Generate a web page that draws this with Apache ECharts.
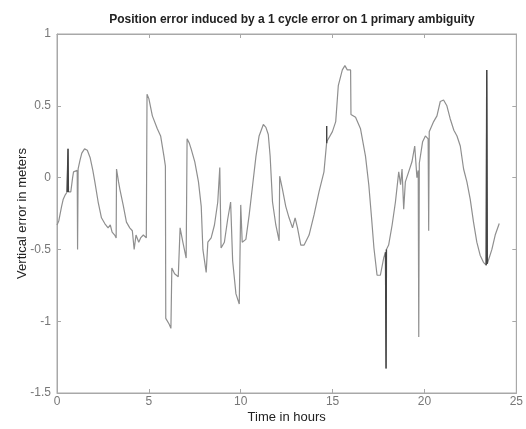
<!DOCTYPE html>
<html>
<head>
<meta charset="utf-8">
<script src="https://cdn.jsdelivr.net/npm/echarts@6/dist/echarts.min.js"></script>
<style>
  html, body { margin: 0; padding: 0; background: #fff; }
  #chart { width: 526px; height: 429px; }
</style>
</head>
<body>
<div id="chart"></div>
<script>
  // time in hours / vertical error in metres
  const times = [
    0.0, 0.1, 0.25, 0.34, 0.45, 0.55, 0.6, 0.62, 0.75, 0.85, 0.9, 1.0, 1.1, 1.12, 1.15,
    1.25, 1.35, 1.5, 1.65, 1.8, 1.95, 2.06, 2.24, 2.42, 2.6, 2.78, 2.9, 3.0, 3.14, 3.22,
    3.24, 3.35, 3.42, 3.6, 3.78, 3.96, 4.1, 4.2, 4.3, 4.45, 4.55, 4.7, 4.86, 4.9, 5.0,
    5.19, 5.46, 5.64, 5.82, 5.9, 5.92, 6.1, 6.2, 6.25, 6.4, 6.6, 6.7, 6.85, 7.03, 7.08,
    7.2, 7.3, 7.5, 7.7, 7.85, 7.94, 8.12, 8.21, 8.39, 8.57, 8.75, 8.86, 8.93, 9.11, 9.29,
    9.45, 9.56, 9.74, 9.92, 10.0, 10.08, 10.28, 10.46, 10.65, 10.83, 11.0, 11.23, 11.37, 11.5, 11.6,
    11.73, 11.91, 12.09, 12.12, 12.27, 12.45, 12.63, 12.82, 12.96, 13.09, 13.27, 13.45, 13.72, 13.99, 14.26,
    14.53, 14.68, 14.99, 15.17, 15.31, 15.53, 15.67, 15.8, 15.98, 16.0, 16.25, 16.52, 16.79, 16.97, 17.12,
    17.25, 17.42, 17.6, 17.78, 17.88, 17.91, 17.93, 18.05, 18.24, 18.42, 18.6, 18.7, 18.78, 18.87, 18.96,
    19.14, 19.32, 19.47, 19.59, 19.66, 19.69, 19.72, 19.9, 20.05, 20.2, 20.23, 20.26, 20.5, 20.68, 20.86,
    21.04, 21.22, 21.4, 21.6, 21.77, 21.95, 22.13, 22.31, 22.49, 22.67, 22.85, 23.03, 23.21, 23.36, 23.39,
    23.42, 23.67, 23.85, 24.07
  ]
  const errors = [
    -0.33, -0.3, -0.2, -0.15, -0.12, -0.1, 0.2, -0.1, -0.1, 0.0, 0.04, 0.05, 0.05, -0.5, 0.06,
    0.12, 0.17, 0.2, 0.19, 0.14, 0.05, -0.03, -0.17, -0.28, -0.32, -0.35, -0.33, -0.38, -0.4, -0.42,
    0.06, -0.03, -0.08, -0.19, -0.31, -0.35, -0.37, -0.5, -0.4, -0.45, -0.42, -0.4, -0.42, 0.58, 0.55,
    0.43, 0.34, 0.29, 0.15, 0.08, -0.98, -1.02, -1.05, -0.63, -0.67, -0.69, -0.35, -0.45, -0.56, 0.27,
    0.24, 0.2, 0.11, -0.03, -0.2, -0.5, -0.66, -0.45, -0.42, -0.33, -0.17, 0.07, -0.49, -0.45, -0.29,
    -0.17, -0.58, -0.81, -0.88, -0.19, -0.45, -0.43, -0.26, -0.05, 0.15, 0.29, 0.37, 0.35, 0.3, 0.15,
    -0.17, -0.33, -0.44, 0.01, -0.08, -0.2, -0.28, -0.35, -0.28, -0.35, -0.47, -0.47, -0.4, -0.26, -0.1,
    0.04, 0.25, 0.32, 0.39, 0.64, 0.75, 0.78, 0.75, 0.75, 0.44, 0.42, 0.34, 0.15, -0.05, -0.28,
    -0.49, -0.68, -0.68, -0.56, -0.52, -1.33, -0.5, -0.47, -0.33, -0.17, 0.04, -0.05, 0.06, -0.22, -0.03,
    0.04, 0.11, 0.22, 0.0, 0.05, -1.11, 0.1, 0.25, 0.29, 0.27, -0.37, 0.32, 0.39, 0.43, 0.53,
    0.54, 0.5, 0.41, 0.33, 0.29, 0.22, 0.06, -0.03, -0.15, -0.31, -0.45, -0.54, -0.59, -0.61, 0.75,
    -0.6, -0.5, -0.4, -0.32
  ]
  // darker pieces of the trace (null = gap)
  const darkTimes = [0.55, 0.6, 0.62, null, 14.68, 14.68, null, 17.88, 17.91, 17.93, null, 23.36, 23.39, 23.42]
  const darkErrors = [-0.1, 0.2, -0.1, null, 0.24, 0.36, null, -0.52, -1.33, -0.5, null, -0.61, 0.75, -0.6]

  const xTicks = [0, 5, 10, 15, 20, 25]
  const yTicks = [-1.5, -1, -0.5, 0, 0.5, 1]

  const mainData = times.map((t, i) => [t, errors[i]])
  const darkData = darkTimes.map((t, i) => (t === null ? [null, null] : [t, darkErrors[i]]))

  const frame = '#a8a8a8'
  const font = 'Liberation Sans, Arial, sans-serif'
  const labelStyle = { color: '#777', fontSize: 12, fontFamily: font }
  const nameStyle = { color: '#222', fontSize: 13, fontFamily: font }

  const options = {
    animation: false,
    title: {
      text: 'Position error induced by a 1 cycle error on 1 primary ambiguity',
      left: 287,
      top: 9,
      textAlign: 'center',
      textStyle: { fontSize: 12, fontWeight: 'bold', color: '#222', fontFamily: font },
    },
    grid: {
      left: 57,
      right: 8,
      top: 34,
      bottom: 33,
      show: true,
      borderColor: frame,
      borderWidth: 1,
    },
    xAxis: [
      {
        type: 'value',
        min: xTicks[0],
        max: xTicks[xTicks.length - 1],
        interval: 5,
        name: 'Time in hours',
        nameLocation: 'middle',
        nameGap: 18,
        nameMoveOverlap: false,
        nameTextStyle: nameStyle,
        axisLine: { onZero: false, lineStyle: { color: frame } },
        axisTick: { inside: true, length: 4, lineStyle: { color: frame } },
        axisLabel: { ...labelStyle, margin: 3 },
        splitLine: { show: false },
      },
      {
        type: 'value',
        position: 'top',
        min: xTicks[0],
        max: xTicks[xTicks.length - 1],
        interval: 5,
        axisLine: { onZero: false, lineStyle: { color: frame } },
        axisTick: { inside: true, length: 4, lineStyle: { color: frame } },
        axisLabel: { show: false },
        splitLine: { show: false },
      },
    ],
    yAxis: [
      {
        type: 'value',
        min: yTicks[0],
        max: yTicks[yTicks.length - 1],
        interval: 0.5,
        name: 'Vertical error in meters',
        nameLocation: 'middle',
        nameGap: 28,
        nameMoveOverlap: false,
        nameTextStyle: nameStyle,
        axisLine: { show: true, onZero: false, lineStyle: { color: frame } },
        axisTick: { show: true, inside: true, length: 4, lineStyle: { color: frame } },
        axisLabel: { ...labelStyle, margin: 6 },
        splitLine: { show: false },
      },
      {
        type: 'value',
        position: 'right',
        min: yTicks[0],
        max: yTicks[yTicks.length - 1],
        interval: 0.5,
        axisLine: { show: true, onZero: false, lineStyle: { color: frame } },
        axisTick: { show: true, inside: true, length: 4, lineStyle: { color: frame } },
        axisLabel: { show: false },
        splitLine: { show: false },
      },
    ],
    series: [
      {
        type: 'line',
        data: mainData,
        showSymbol: false,
        lineStyle: { color: '#8f8f8f', width: 1.2 },
      },
      {
        type: 'line',
        data: darkData,
        showSymbol: false,
        connectNulls: false,
        lineStyle: { color: '#444', width: 1.4 },
      },
    ],
  }

  const chart = echarts.init(document.getElementById('chart'))
  chart.setOption(options)
  window.addEventListener('resize', function () {
    chart && chart.resize()
  })
</script>
</body>
</html>
